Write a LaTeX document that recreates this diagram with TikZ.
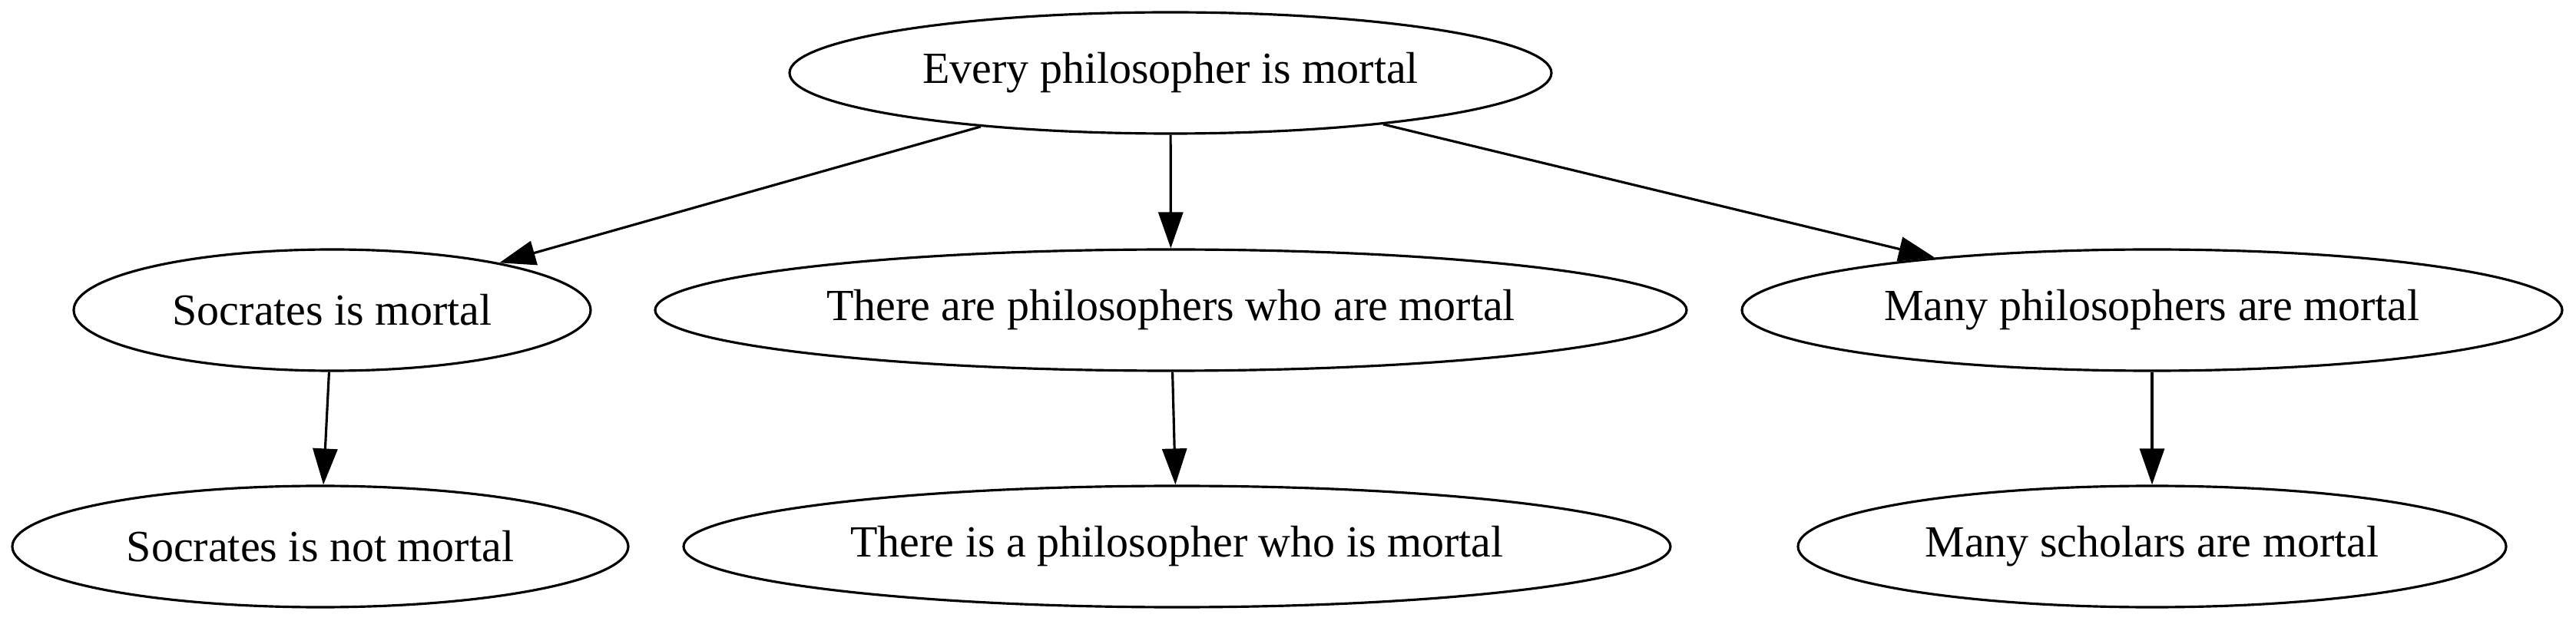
\documentclass[tikz,border=0pt]{standalone}
\usepackage{fontspec}
\setmainfont{Liberation Serif}
\usetikzlibrary{shapes.geometric,arrows.meta}
\begin{document}
\begin{tikzpicture}[
  every node/.style={font=\fontsize{16.5}{20}\selectfont},
  prop/.style={ellipse, draw, line width=0.9pt, inner sep=0pt, minimum height=1.58cm},
  edge/.style={line width=0.9pt, -{Triangle[length=0.47cm,width=0.32cm]}}
]
\useasboundingbox (0,0) rectangle (33.54,8.08);
\node[prop, minimum width=9.92cm] (top) at (15.24,7.13) {Every philosopher is mortal};
\node[prop, minimum width=6.73cm] (soc) at (4.325,4.04) {Socrates is mortal};
\node[prop, minimum width=13.43cm] (there) at (15.245,4.04) {There are philosophers who are mortal};
\node[prop, minimum width=10.68cm] (many) at (28.02,4.04) {Many philosophers are mortal};
\node[prop, minimum width=8.02cm] (socnot) at (4.17,0.96) {Socrates is not mortal};
\node[prop, minimum width=12.85cm] (thereis) at (15.325,0.96) {There is a philosopher who is mortal};
\node[prop, minimum width=9.22cm] (scholars) at (28.02,0.96) {Many scholars are mortal};
\draw[edge] (top) -- (soc);
\draw[edge] (top) -- (there);
\draw[edge] (top) -- (many);
\draw[edge] (soc) -- (socnot);
\draw[edge] (there) -- (thereis);
\draw[edge] (many) -- (scholars);
\end{tikzpicture}
\end{document}
